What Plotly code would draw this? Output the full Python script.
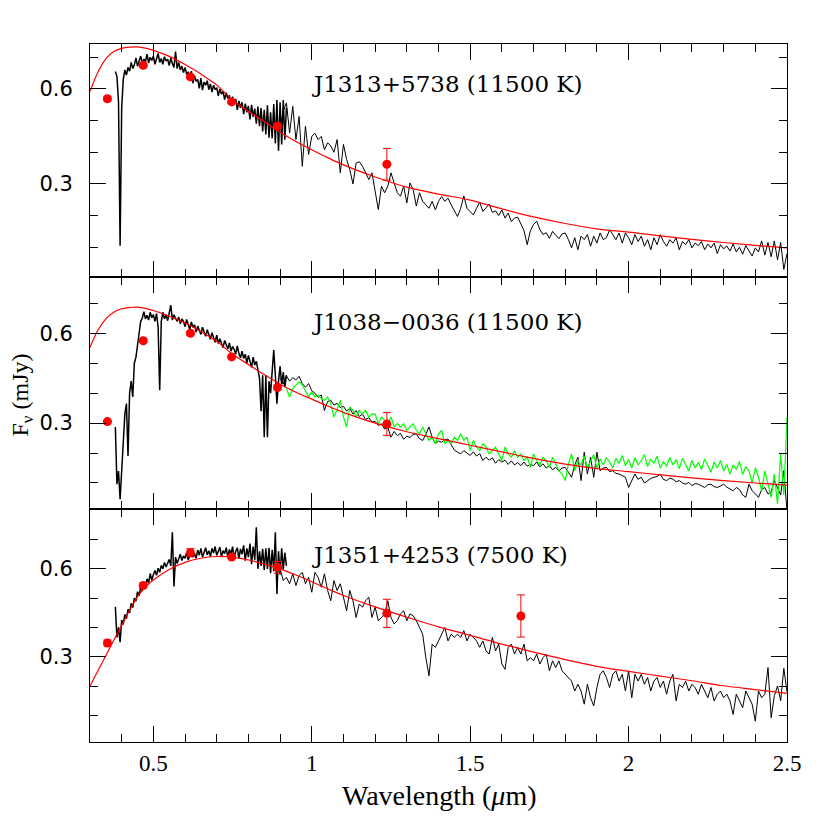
import numpy as np
import plotly.graph_objects as go
from plotly.subplots import make_subplots

OPT_START, OPT_STEP = 0.380, 0.005
NIR_START, NIR_STEP = 0.90, 0.01
GREEN_START, GREEN_STEP = 0.92, 0.01

# ---- J1313+5738 ----
p1_opt = [
    0.655, 0.640, 0.560, 0.105, 0.540, 0.630, 0.660, 0.644, 0.668, 0.656,
    0.684, 0.664, 0.676, 0.698, 0.672, 0.690, 0.704, 0.680, 0.694, 0.686,
    0.710, 0.682, 0.700, 0.690, 0.704, 0.678, 0.698, 0.712, 0.684, 0.696,
    0.678, 0.702, 0.688, 0.694, 0.674, 0.698, 0.680, 0.668, 0.718, 0.664,
    0.684, 0.660, 0.672, 0.652, 0.668, 0.646, 0.654, 0.640, 0.656, 0.618,
    0.642, 0.624, 0.630, 0.602, 0.634, 0.596, 0.622, 0.612, 0.626, 0.598,
    0.616, 0.590, 0.612, 0.598, 0.604, 0.578, 0.600, 0.584, 0.592, 0.566,
    0.588, 0.570, 0.580, 0.552, 0.576, 0.554, 0.568, 0.534, 0.562, 0.540,
    0.558, 0.520, 0.554, 0.526, 0.546, 0.504, 0.550, 0.512, 0.538, 0.490,
    0.544, 0.482, 0.540, 0.466, 0.534, 0.456, 0.548, 0.446, 0.526, 0.444,
    0.552, 0.428, 0.565, 0.405, 0.558, 0.425, 0.565, 0.440, 0.540,
]
p1_nir = [
    0.480, 0.530, 0.556, 0.461, 0.545, 0.440, 0.513, 0.356, 0.482, 0.393,
    0.450, 0.460, 0.440, 0.450, 0.408, 0.430, 0.420, 0.400, 0.440, 0.335,
    0.425, 0.377, 0.345, 0.300, 0.366, 0.370, 0.356, 0.335, 0.314, 0.335,
    0.282, 0.219, 0.293, 0.272, 0.293, 0.335, 0.303, 0.272, 0.261, 0.293,
    0.240, 0.303, 0.282, 0.230, 0.272, 0.245, 0.234, 0.223, 0.245, 0.218,
    0.245, 0.260, 0.245, 0.255, 0.234, 0.213, 0.197, 0.223, 0.262, 0.223,
    0.213, 0.202, 0.223, 0.242, 0.213, 0.223, 0.236, 0.210, 0.215, 0.200,
    0.218, 0.192, 0.208, 0.181, 0.192, 0.195, 0.174, 0.152, 0.108, 0.152,
    0.172, 0.182, 0.156, 0.140, 0.146, 0.128, 0.150, 0.138, 0.127, 0.142,
    0.145, 0.124, 0.098, 0.130, 0.092, 0.135, 0.124, 0.140, 0.103, 0.135,
    0.113, 0.145, 0.124, 0.130, 0.155, 0.140, 0.124, 0.145, 0.113, 0.145,
    0.130, 0.108, 0.140, 0.118, 0.135, 0.103, 0.124, 0.092, 0.130, 0.108,
    0.140, 0.118, 0.103, 0.124, 0.113, 0.130, 0.092, 0.118, 0.108, 0.124,
    0.098, 0.113, 0.105, 0.118, 0.092, 0.110, 0.098, 0.113, 0.080, 0.108,
    0.095, 0.104, 0.088, 0.110, 0.085, 0.100, 0.078, 0.105, 0.090, 0.072,
    0.098, 0.085, 0.120, 0.075, 0.115, 0.070, 0.120, 0.060, 0.115, 0.030,
    0.080,
]

# ---- J1038-0036 ----
p2_opt = [
    0.287, 0.096, 0.140, 0.046, 0.140, 0.230, 0.330, 0.365, 0.190, 0.400,
    0.440, 0.387, 0.500, 0.520, 0.570, 0.600, 0.640, 0.650, 0.672, 0.648,
    0.660, 0.644, 0.670, 0.652, 0.662, 0.640, 0.666, 0.620, 0.410, 0.640,
    0.670, 0.648, 0.662, 0.642, 0.668, 0.694, 0.644, 0.662, 0.650, 0.640,
    0.654, 0.632, 0.648, 0.640, 0.622, 0.646, 0.630, 0.612, 0.638, 0.620,
    0.628, 0.604, 0.624, 0.610, 0.596, 0.620, 0.602, 0.590, 0.612, 0.596,
    0.580, 0.602, 0.586, 0.570, 0.594, 0.566, 0.582, 0.570, 0.552, 0.576,
    0.560, 0.548, 0.568, 0.540, 0.556, 0.546, 0.530, 0.558, 0.532, 0.518,
    0.540, 0.516, 0.530, 0.500, 0.526, 0.506, 0.486, 0.520, 0.494, 0.506,
    0.470, 0.450, 0.340, 0.460, 0.253, 0.460, 0.253, 0.440, 0.400, 0.470,
    0.544, 0.460, 0.365, 0.440, 0.490, 0.430, 0.470, 0.420, 0.460,
]
p2_nir = [
    0.450, 0.430, 0.458, 0.440, 0.452, 0.444, 0.456, 0.432, 0.420, 0.432,
    0.408, 0.400, 0.386, 0.394, 0.342, 0.372, 0.376, 0.360, 0.366, 0.352,
    0.356, 0.340, 0.350, 0.330, 0.342, 0.322, 0.330, 0.312, 0.318, 0.304,
    0.306, 0.292, 0.298, 0.280, 0.286, 0.253, 0.272, 0.258, 0.266, 0.246,
    0.256, 0.252, 0.262, 0.264, 0.248, 0.242, 0.262, 0.287, 0.253, 0.231,
    0.240, 0.236, 0.244, 0.247, 0.228, 0.210, 0.203, 0.197, 0.208, 0.200,
    0.192, 0.204, 0.190, 0.198, 0.175, 0.186, 0.176, 0.184, 0.166, 0.178,
    0.170, 0.176, 0.162, 0.174, 0.160, 0.168, 0.158, 0.170, 0.156, 0.162,
    0.158, 0.170, 0.154, 0.164, 0.150, 0.158, 0.144, 0.152, 0.140, 0.150,
    0.152, 0.136, 0.119, 0.160, 0.186, 0.108, 0.203, 0.130, 0.186, 0.119,
    0.203, 0.141, 0.150, 0.152, 0.138, 0.141, 0.132, 0.130, 0.125, 0.119,
    0.085, 0.110, 0.130, 0.112, 0.119, 0.100, 0.108, 0.115, 0.119, 0.122,
    0.130, 0.112, 0.108, 0.116, 0.113, 0.104, 0.108, 0.100, 0.096, 0.102,
    0.091, 0.098, 0.096, 0.090, 0.085, 0.094, 0.096, 0.088, 0.085, 0.090,
    0.096, 0.086, 0.080, 0.074, 0.085, 0.078, 0.060, 0.052, 0.096, 0.074,
    0.064, 0.052, 0.078, 0.085, 0.063, 0.070, 0.108, 0.085, 0.060, 0.141,
    0.007,
]
p2_green = [
    0.415, 0.387, 0.415, 0.427, 0.438, 0.427, 0.404, 0.387, 0.404, 0.387,
    0.393, 0.382, 0.376, 0.387, 0.365, 0.320, 0.345, 0.376, 0.320, 0.287,
    0.354, 0.343, 0.320, 0.343, 0.331, 0.343, 0.320, 0.331, 0.330, 0.298,
    0.320, 0.309, 0.298, 0.320, 0.287, 0.298, 0.287, 0.298, 0.276, 0.287,
    0.298, 0.276, 0.264, 0.287, 0.264, 0.242, 0.253, 0.231, 0.264, 0.276,
    0.231, 0.242, 0.231, 0.253, 0.242, 0.264, 0.242, 0.253, 0.208, 0.242,
    0.220, 0.208, 0.231, 0.220, 0.197, 0.208, 0.220, 0.197, 0.175, 0.220,
    0.197, 0.186, 0.208, 0.186, 0.197, 0.175, 0.186, 0.152, 0.197, 0.175,
    0.160, 0.186, 0.175, 0.152, 0.186, 0.165, 0.141, 0.130, 0.108, 0.164,
    0.197, 0.141, 0.175, 0.160, 0.190, 0.150, 0.175, 0.195, 0.148, 0.180,
    0.160, 0.185, 0.170, 0.150, 0.182, 0.165, 0.192, 0.158, 0.178, 0.150,
    0.185, 0.160, 0.175, 0.195, 0.155, 0.180, 0.165, 0.190, 0.150, 0.172,
    0.155, 0.185, 0.160, 0.178, 0.148, 0.182, 0.162, 0.140, 0.175, 0.150,
    0.168, 0.145, 0.180, 0.158, 0.136, 0.170, 0.150, 0.175, 0.140, 0.162,
    0.130, 0.160, 0.145, 0.172, 0.128, 0.155, 0.140, 0.100, 0.150, 0.120,
    0.074, 0.140, 0.090, 0.052, 0.130, 0.030, 0.197, 0.060, 0.320,
]

# ---- J1351+4253 ----
p3_opt = [
    0.470, 0.366, 0.400, 0.350, 0.425, 0.410, 0.445, 0.430, 0.462, 0.450,
    0.482, 0.468, 0.500, 0.490, 0.522, 0.508, 0.538, 0.524, 0.552, 0.540,
    0.566, 0.552, 0.584, 0.561, 0.580, 0.594, 0.578, 0.602, 0.588, 0.612,
    0.600, 0.622, 0.606, 0.618, 0.632, 0.610, 0.725, 0.540, 0.640, 0.618,
    0.634, 0.650, 0.628, 0.644, 0.636, 0.656, 0.630, 0.648, 0.660, 0.640,
    0.652, 0.636, 0.664, 0.646, 0.670, 0.640, 0.658, 0.672, 0.648, 0.662,
    0.642, 0.670, 0.654, 0.676, 0.646, 0.660, 0.674, 0.640, 0.662, 0.652,
    0.672, 0.638, 0.666, 0.650, 0.676, 0.636, 0.660, 0.672, 0.634, 0.668,
    0.650, 0.680, 0.628, 0.670, 0.640, 0.686, 0.616, 0.676, 0.630, 0.742,
    0.600, 0.660, 0.610, 0.668, 0.596, 0.670, 0.600, 0.672, 0.585, 0.665,
    0.592, 0.725, 0.514, 0.660, 0.580, 0.670, 0.598, 0.655, 0.610,
]
p3_nir = [
    0.600, 0.560, 0.571, 0.549, 0.583, 0.543, 0.577, 0.588, 0.549, 0.571,
    0.520, 0.588, 0.571, 0.537, 0.583, 0.526, 0.491, 0.560, 0.526, 0.549,
    0.503, 0.457, 0.526, 0.491, 0.434, 0.480, 0.469, 0.491, 0.503, 0.434,
    0.469, 0.423, 0.434, 0.446, 0.491, 0.434, 0.412, 0.423, 0.446, 0.457,
    0.423, 0.446, 0.440, 0.423, 0.400, 0.377, 0.297, 0.235, 0.343, 0.332,
    0.354, 0.377, 0.400, 0.354, 0.377, 0.366, 0.377, 0.366, 0.389, 0.354,
    0.377, 0.366, 0.354, 0.332, 0.354, 0.320, 0.309, 0.366, 0.320, 0.343,
    0.275, 0.257, 0.332, 0.343, 0.309, 0.332, 0.309, 0.343, 0.286, 0.297,
    0.286, 0.309, 0.275, 0.297, 0.309, 0.252, 0.286, 0.263, 0.286, 0.252,
    0.240, 0.229, 0.217, 0.183, 0.206, 0.183, 0.138, 0.206, 0.160, 0.132,
    0.195, 0.240, 0.252, 0.229, 0.195, 0.240, 0.252, 0.217, 0.240, 0.183,
    0.252, 0.160, 0.240, 0.217, 0.240, 0.206, 0.229, 0.183, 0.217, 0.229,
    0.195, 0.217, 0.172, 0.217, 0.240, 0.149, 0.206, 0.195, 0.217, 0.183,
    0.206, 0.195, 0.172, 0.206, 0.183, 0.160, 0.195, 0.149, 0.172, 0.183,
    0.160, 0.172, 0.149, 0.103, 0.172, 0.149, 0.126, 0.183, 0.160, 0.138,
    0.080, 0.183, 0.160, 0.172, 0.263, 0.092, 0.167, 0.200, 0.150, 0.260,
    0.180,
]

# model SEDs (red curves)
model_wave = [0.30, 0.325, 0.35, 0.375, 0.40, 0.425, 0.45, 0.475, 0.50, 0.55,
              0.60, 0.65, 0.70, 0.75, 0.80, 0.85, 0.90, 0.95, 1.00, 1.05,
              1.10, 1.20, 1.30, 1.40, 1.50, 1.60, 1.70, 1.80, 1.90, 2.00,
              2.10, 2.20, 2.30, 2.40, 2.50]
model1 = [0.592, 0.653, 0.695, 0.718, 0.728, 0.732, 0.733, 0.729, 0.722, 0.703,
          0.677, 0.647, 0.612, 0.565, 0.529, 0.497, 0.463, 0.434, 0.408, 0.383,
          0.360, 0.322, 0.290, 0.268, 0.249, 0.221, 0.196, 0.175, 0.158, 0.148,
          0.136, 0.125, 0.115, 0.106, 0.098]
model2 = [0.553, 0.610, 0.648, 0.670, 0.682, 0.686, 0.687, 0.683, 0.676, 0.657,
          0.634, 0.606, 0.573, 0.530, 0.496, 0.462, 0.430, 0.403, 0.380, 0.357,
          0.336, 0.300, 0.271, 0.248, 0.226, 0.204, 0.182, 0.163, 0.148, 0.138,
          0.127, 0.117, 0.108, 0.100, 0.093]
model3 = [0.200, 0.252, 0.304, 0.356, 0.407, 0.458, 0.505, 0.538, 0.562, 0.598,
          0.622, 0.636, 0.642, 0.640, 0.630, 0.616, 0.600, 0.579, 0.556, 0.532,
          0.509, 0.470, 0.435, 0.402, 0.373, 0.343, 0.316, 0.290, 0.267, 0.250,
          0.234, 0.218, 0.201, 0.188, 0.175]

# photometry (ugriz, J, H)
phot_wave = [0.355, 0.468, 0.617, 0.747, 0.892, 1.237, 1.660]
phot1 = [0.569, 0.675, 0.638, 0.559, 0.483, 0.362]
err1 = [0.007, 0.006, 0.006, 0.005, 0.008, 0.050]
phot2 = [0.305, 0.575, 0.600, 0.521, 0.419, 0.297]
err2 = [0.004, 0.006, 0.006, 0.005, 0.008, 0.038]
phot3 = [0.347, 0.543, 0.655, 0.640, 0.605, 0.448, 0.439]
err3 = [0.010, 0.008, 0.014, 0.006, 0.020, 0.048, 0.072]

labels = ["J1313+5738 (11500 K)", "J1038\u22120036 (11500 K)", "J1351+4253 (7500 K)"]
label_y = [0.617, 0.638, 0.646]
yranges = [[0.007, 0.742], [0.012, 0.789], [0.009, 0.803]]


def grid(start, step, n):
    return start + step * np.arange(n)


panels = [
    (p1_opt, p1_nir, None, model1, phot1, err1),
    (p2_opt, p2_nir, p2_green, model2, phot2, err2),
    (p3_opt, p3_nir, None, model3, phot3, err3),
]

fig = make_subplots(rows=3, cols=1, shared_xaxes=True, vertical_spacing=0)

for i, (opt, nir, green, model, phot, err) in enumerate(panels):
    row = i + 1
    fig.add_trace(go.Scatter(x=grid(OPT_START, OPT_STEP, len(opt)), y=opt, mode="lines",
                             line=dict(color="black", width=1.5)), row=row, col=1)
    fig.add_trace(go.Scatter(x=grid(NIR_START, NIR_STEP, len(nir)), y=nir, mode="lines",
                             line=dict(color="black", width=1)), row=row, col=1)
    if green is not None:
        fig.add_trace(go.Scatter(x=grid(GREEN_START, GREEN_STEP, len(green)), y=green,
                                 mode="lines", line=dict(color="#00ff00", width=1.2)),
                      row=row, col=1)
    fig.add_trace(go.Scatter(x=model_wave, y=model, mode="lines",
                             line=dict(color="#ff0000", width=1.2, shape="spline")),
                  row=row, col=1)
    fig.add_trace(go.Scatter(x=phot_wave[:len(phot)], y=phot, mode="markers",
                             marker=dict(color="#ff0000", size=9),
                             error_y=dict(type="data", array=err, color="#ff0000",
                                          thickness=1, width=4)),
                  row=row, col=1)
    fig.add_annotation(x=0.995, y=label_y[i], xref=f"x{row if row > 1 else ''}",
                       yref=f"y{row if row > 1 else ''}", text=labels[i], showarrow=False,
                       xanchor="left", yanchor="middle",
                       font=dict(family="DejaVu Serif", size=23, color="black"))

axis_common = dict(showline=True, linecolor="black", linewidth=1, mirror="allticks",
                   ticks="inside", ticklen=16, tickwidth=1, tickcolor="black",
                   showgrid=False, zeroline=False)

for row in range(1, 4):
    fig.update_xaxes(range=[0.3, 2.5], tick0=0, dtick=0.5,
                     minor=dict(ticks="inside", ticklen=8, dtick=0.1, tick0=0,
                                tickcolor="black", showgrid=False),
                     tickfont=dict(family="Liberation Serif", size=23, color="black"),
                     ticklabelstandoff=0,
                     row=row, col=1, **axis_common)
    fig.update_yaxes(range=yranges[row - 1], tick0=0, dtick=0.3,
                     minor=dict(ticks="inside", ticklen=8, dtick=0.1, tick0=0,
                                tickcolor="black", showgrid=False),
                     tickfont=dict(family="DejaVu Sans", size=21, color="black"),
                     ticklabelstandoff=12,
                     row=row, col=1, **axis_common)

fig.add_annotation(x=0.502, y=-0.076, xref="paper", yref="paper",
                   text="Wavelength (<i>\u03bc</i>m)", showarrow=False,
                   xanchor="center", yanchor="middle",
                   font=dict(family="Liberation Serif", size=28, color="black"))
fig.add_annotation(x=-0.097, y=0.497, xref="paper", yref="paper",
                   text="F<sub>\u03bd</sub> (mJy)", showarrow=False, textangle=-90,
                   xanchor="center", yanchor="middle",
                   font=dict(family="Liberation Serif", size=24, color="black"))

# the page body adds an 8 px offset, so the figure is drawn slightly smaller
fig.update_layout(width=822, height=822, showlegend=False,
                  margin=dict(l=82, r=43, t=36, b=88),
                  plot_bgcolor="white", paper_bgcolor="white")

fig.write_html("out.html")
